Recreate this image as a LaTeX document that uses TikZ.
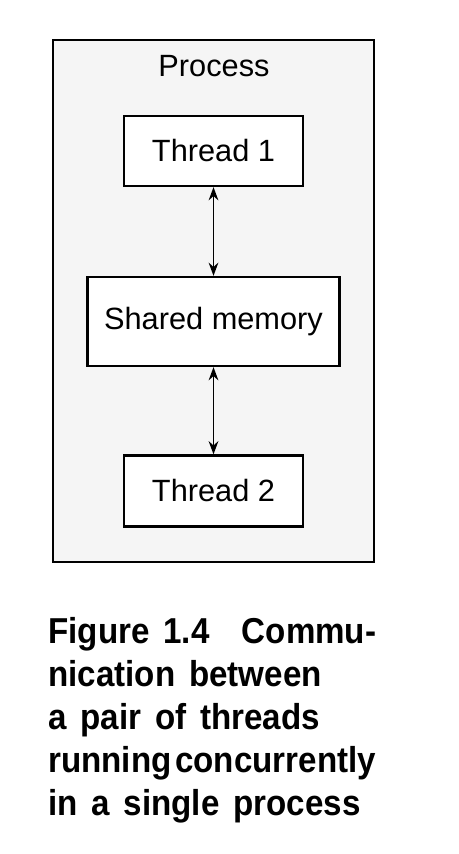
\documentclass[tikz,border=0pt]{standalone}
\usepackage{fontspec}
\setmainfont{Liberation Sans}
\newfontfamily\capfont[FakeStretch=0.92,WordSpace=1.5]{Liberation Sans}
\usetikzlibrary{arrows.meta}

\tikzset{
  threadbox/.style={draw,fill=white,line width=1.3pt,minimum width=3.58cm,minimum height=1.4cm,inner sep=0pt},
  link/.style={line width=1.1pt,{Stealth[length=7.5pt,width=5.5pt]}-{Stealth[length=7.5pt,width=5.5pt]}},
  captext/.style={anchor=base west,inner sep=0pt,font=\capfont\bfseries\fontsize{20.5pt}{24pt}\selectfont}
}

\begin{document}
\begin{tikzpicture}[x=0.02cm,y=-0.02cm,font=\fontsize{17.5pt}{21pt}\selectfont]
\useasboundingbox (0,0) rectangle (458,854);

% process frame
\filldraw[fill=gray!8,line width=1.3pt] (53,40) rectangle (374,562);
\node[anchor=base] (proc) at (214,77) {Process};

\node[threadbox] (t1) at (213.5,151) {Thread 1};
\node[threadbox,minimum width=5.04cm,minimum height=1.78cm] (mem) at (213.5,321.5) {Shared memory};
\node[threadbox,minimum height=1.42cm] (t2) at (213.5,491) {Thread 2};

\draw[link] (t1) -- (mem);
\draw[link] (mem) -- (t2);

% caption
\node[captext] (cap1) at (48,643) {Figure 1.4\hspace{0.9em}Commu-};
\node[captext] (cap2) at (48,686) {nication between};
\node[captext] (cap3) at (48,729) {a pair of threads};
\node[captext] (cap4) at (48,772) {running\hspace{0.1em}concurrently};
\node[captext] (cap5) at (48,815) {in a single process};
\end{tikzpicture}
\end{document}
